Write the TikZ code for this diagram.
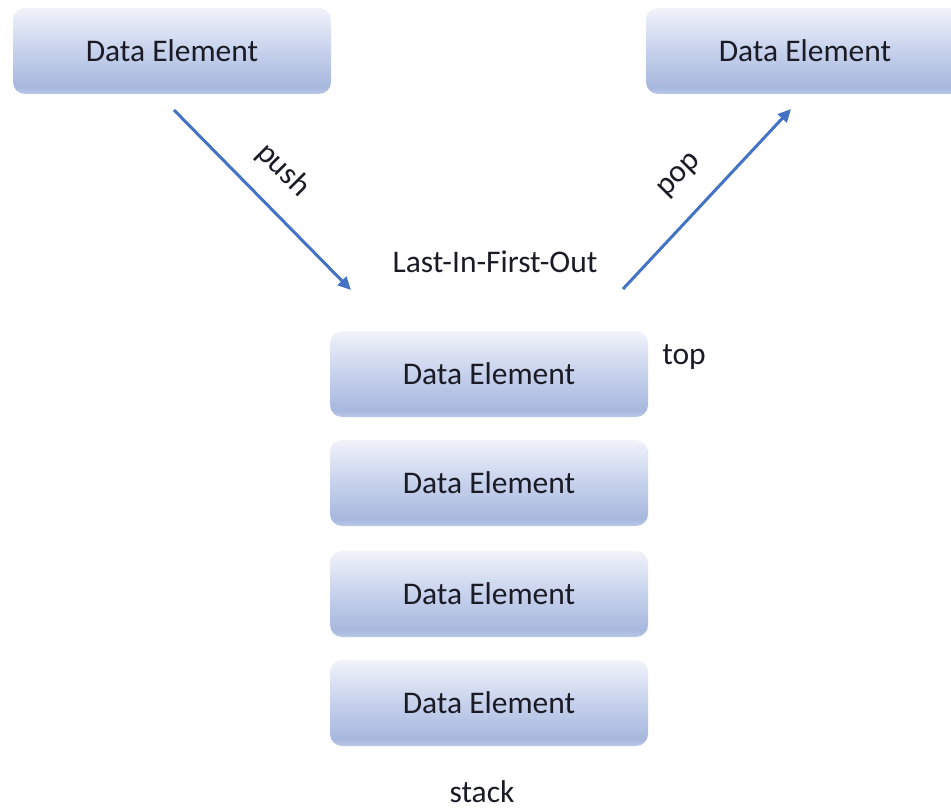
\documentclass[tikz,border=0pt]{standalone}
\usepackage{fontspec}
\setmainfont{Carlito}
\usetikzlibrary{arrows.meta}

\definecolor{arrowblue}{HTML}{4472C4}
\definecolor{inkdark}{HTML}{1B1B26}
\definecolor{bxEdge}{HTML}{BBC8E7}
\definecolor{bxLow}{HTML}{A7B8DE}
\definecolor{bxMid}{HTML}{C6D1EC}
\definecolor{bxTop}{HTML}{F1F3FA}

% glossy vertical fill of the data boxes (box spans 25bp..75bp)
\pgfdeclareverticalshading{boxgloss}{100bp}{%
  color(0bp)=(bxEdge); color(25bp)=(bxEdge); color(29bp)=(bxLow);
  color(50bp)=(bxMid); color(75bp)=(bxTop); color(100bp)=(bxTop)}

\tikzset{
  databox/.style={rounded corners=12pt, shading=boxgloss, draw=none,
    minimum width=318pt, minimum height=86pt, inner sep=0pt,
    text=inkdark, font=\fontsize{31.5}{36}\selectfont},
  plain/.style={text=inkdark, inner sep=0pt, font=\fontsize{31.5}{36}\selectfont},
  flow/.style={draw=arrowblue, line width=3pt,
    -{Triangle[length=13pt,width=12pt]}}
}

\begin{document}
\begin{tikzpicture}[x=1pt, y=-1pt]
  \useasboundingbox (0,0) rectangle (951,808);
  \clip (0,0) rectangle (951,808);

  % incoming and outgoing elements
  \node[databox] (inElem)  at (172,51) {Data Element};
  \node[databox] (outElem) at (805,51) {Data Element};

  % the stack itself
  \node[databox] (s1) at (489,374) {Data Element};
  \node[databox] (s2) at (489,483) {Data Element};
  \node[databox] (s3) at (489,594) {Data Element};
  \node[databox] (s4) at (489,703) {Data Element};

  % captions
  \node[plain] (lifo)  at (495,262) {Last-In-First-Out};
  \node[plain] (topL)  at (684,357) {top};
  \node[plain] (stackL) at (482,792) {stack};

  % push / pop arrows
  \coordinate (pushA) at (174,110);
  \coordinate (pushB) at (351,290);
  \coordinate (popA)  at (623,289);
  \coordinate (popB)  at (791,109);
  \draw[flow] (pushA) -- (pushB);
  \draw[flow] (popA) -- (popB);

  \node[plain, rotate=-45] (pushL) at (283,170) {push};
  \node[plain, rotate=45]  (popL)  at (680,176) {pop};
\end{tikzpicture}
\end{document}
